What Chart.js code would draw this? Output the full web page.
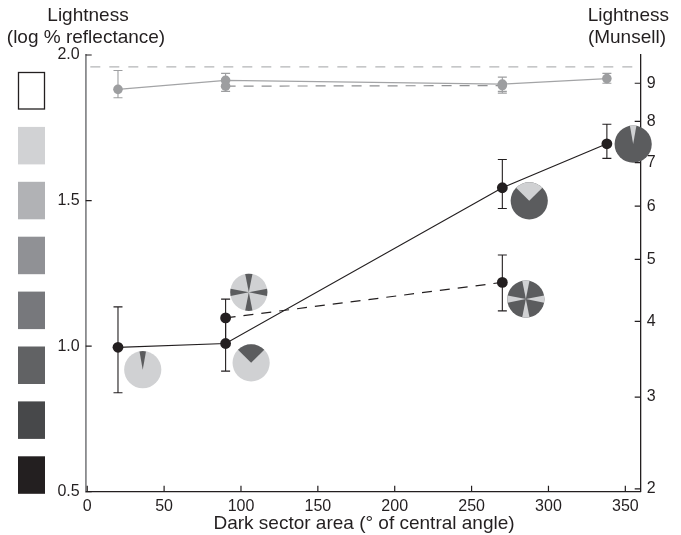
<!DOCTYPE html>
<html>
<head>
<meta charset="utf-8">
<script src="https://cdn.jsdelivr.net/npm/chart.js@4/dist/chart.umd.min.js"></script>
<style>
html,body{margin:0;padding:0;background:#fff;}
#wrap{position:relative;width:681px;height:535px;}
</style>
</head>
<body>
<div id="wrap"><canvas id="c" width="681" height="535"></canvas></div>
<script>
// ---- data ----
const xTicks = [0, 50, 100, 150, 200, 250, 300, 350];
const yTicks = [0.5, 1.0, 1.5, 2.0];
const munsellLabels = ['2', '3', '4', '5', '6', '7', '8', '9'];
const munsellLog = [0.51, 0.825, 1.085, 1.298, 1.481, 1.63, 1.772, 1.903];

const solidX = [20, 90, 270, 338];
const solidY = [0.996, 1.009, 1.544, 1.695];
const solidLo = [0.840, 0.914, 1.473, 1.645];
const solidHi = [1.135, 1.097, 1.641, 1.762];

const dashX = [90, 270];
const dashY = [1.097, 1.219];
const dashLo = [1.009, 1.121];
const dashHi = [1.1615, 1.313];

const graySolidX = [20, 90, 270, 338];
const graySolidY = [1.882, 1.913, 1.900, 1.919];
const graySolidLo = [1.853, 1.893, 1.869, 1.903];
const graySolidHi = [1.947, 1.937, 1.924, 1.937];

const grayDashX = [90, 270];
const grayDashY = [1.893, 1.895];
const grayDashLo = [1.875, 1.875];
const grayDashHi = [1.913, 1.900];

const whiteRef = 1.959;

// pie annotations: centre (data units), dark-sector pattern
const pieX = [36.1, 106.6, 105.1, 287.5, 285.3, 355.1];
const pieY = [0.919, 0.9425, 1.185, 1.499, 1.1615, 1.694];
const pieType = ['darkTop', 'darkTop', 'dark4', 'lightTop', 'light4', 'lightTop'];
const pieAngle = [20, 90, 22.5, 90, 22.5, 20];

const swatchColors = ['#ffffff', '#d1d2d4', '#b1b2b5', '#909195', '#77787c', '#616264', '#47484a', '#231f20'];

// ---- chart ----
const BLACK = '#231f20';
const GRAY = '#9d9ea0';
const PIE_LIGHT = '#d0d1d3';
const PIE_DARK = '#5b5c5e';
const FONT = '"Liberation Sans", Arial, Helvetica, sans-serif';

function pts(xs, ys) { return xs.map((x, i) => ({x: x, y: ys[i]})); }

const errorSets = [
  {xs: graySolidX, lo: graySolidLo, hi: graySolidHi, color: GRAY},
  {xs: grayDashX, lo: grayDashLo, hi: grayDashHi, color: GRAY},
  {xs: solidX, lo: solidLo, hi: solidHi, color: BLACK},
  {xs: dashX, lo: dashLo, hi: dashHi, color: BLACK}
];

const decor = {
  id: 'decor',
  beforeDatasetsDraw(chart) {
    const ctx = chart.ctx, xs = chart.scales.x, ys = chart.scales.y;
    ctx.save();
    errorSets.forEach(s => {
      ctx.strokeStyle = s.color;
      ctx.lineWidth = 1.1;
      s.xs.forEach((xv, i) => {
        const px = xs.getPixelForValue(xv);
        const y1 = ys.getPixelForValue(s.lo[i]);
        const y2 = ys.getPixelForValue(s.hi[i]);
        ctx.beginPath();
        ctx.moveTo(px, y1); ctx.lineTo(px, y2);
        ctx.moveTo(px - 4.5, y1); ctx.lineTo(px + 4.5, y1);
        ctx.moveTo(px - 4.5, y2); ctx.lineTo(px + 4.5, y2);
        ctx.stroke();
      });
    });
    const r = 18.6;
    pieX.forEach((xv, i) => {
      const cx = xs.getPixelForValue(xv), cy = ys.getPixelForValue(pieY[i]);
      const t = pieType[i], a = pieAngle[i] * Math.PI / 180;
      const base = t.startsWith('dark') ? PIE_LIGHT : PIE_DARK;
      const wedge = t.startsWith('dark') ? PIE_DARK : PIE_LIGHT;
      ctx.fillStyle = base;
      ctx.beginPath(); ctx.arc(cx, cy, r, 0, Math.PI * 2); ctx.fill();
      ctx.fillStyle = wedge;
      const centres = t.endsWith('4') ? [-90, 0, 90, 180] : [-90];
      centres.forEach(c => {
        const cr = c * Math.PI / 180;
        ctx.beginPath();
        ctx.moveTo(cx, cy);
        ctx.arc(cx, cy, r, cr - a / 2, cr + a / 2);
        ctx.closePath();
        ctx.fill();
      });
    });
    ctx.restore();
  },
  afterDraw(chart) {
    const ctx = chart.ctx, xs = chart.scales.x, ys = chart.scales.y, y2 = chart.scales.y2;
    const ca = chart.chartArea;
    ctx.save();
    ctx.strokeStyle = BLACK;
    ctx.lineWidth = 1.2;
    ctx.beginPath();
    xTicks.forEach(v => { const p = xs.getPixelForValue(v); ctx.moveTo(p, ca.bottom); ctx.lineTo(p, ca.bottom - 6); });
    yTicks.forEach(v => { const p = ys.getPixelForValue(v); ctx.moveTo(ca.left, p); ctx.lineTo(ca.left + 6, p); });
    munsellLog.forEach(v => { const p = y2.getPixelForValue(v); ctx.moveTo(ca.right, p); ctx.lineTo(ca.right - 6, p); });
    ctx.stroke();
    swatchColors.forEach((c, i) => {
      const top = 72 + i * 54.9;
      ctx.fillStyle = c;
      ctx.fillRect(18, top, 27, 37.5);
      if (i === 0) { ctx.strokeStyle = BLACK; ctx.lineWidth = 1.3; ctx.strokeRect(18.5, top + 0.5, 26, 36.5); }
    });
    ctx.fillStyle = BLACK;
    ctx.font = '19px ' + FONT;
    ctx.textBaseline = 'alphabetic';
    ctx.textAlign = 'center';
    ctx.fillText('Lightness', 88, 21);
    ctx.fillText('(log % reflectance)', 86, 43);
    ctx.textAlign = 'right';
    ctx.fillText('Lightness', 669, 21);
    ctx.fillText('(Munsell)', 666, 43);
    ctx.textAlign = 'center';
    ctx.fillText('Dark sector area (\u00B0 of central angle)', 364, 529);
    ctx.restore();
  }
};

new Chart(document.getElementById('c'), {
  type: 'scatter',
  data: {
    datasets: [
      {data: [{x: 2, y: whiteRef}, {x: 360, y: whiteRef}], showLine: true, borderColor: '#b4b5b7', borderWidth: 1.3, borderDash: [10, 9], pointRadius: 0},
      {data: pts(grayDashX, grayDashY), showLine: true, borderColor: '#8f9092', borderWidth: 1.2, borderDash: [10, 8], pointRadius: 4.8, pointBackgroundColor: GRAY, pointBorderWidth: 0},
      {data: pts(graySolidX, graySolidY), showLine: true, borderColor: '#a3a4a6', borderWidth: 1.2, pointRadius: 4.8, pointBackgroundColor: GRAY, pointBorderWidth: 0},
      {data: pts(dashX, dashY), showLine: true, borderColor: BLACK, borderWidth: 1.2, borderDash: [10, 8], pointRadius: 5.4, pointBackgroundColor: BLACK, pointBorderWidth: 0},
      {data: pts(solidX, solidY), showLine: true, borderColor: BLACK, borderWidth: 1.2, pointRadius: 5.4, pointBackgroundColor: BLACK, pointBorderWidth: 0}
    ]
  },
  options: {
    responsive: false,
    animation: false,
    layout: {padding: {top: 55, left: 0, right: 0, bottom: 0}},
    plugins: {legend: {display: false}, tooltip: {enabled: false}},
    scales: {
      x: {
        type: 'linear', min: -1, max: 360,
        afterBuildTicks: s => { s.ticks = xTicks.map(v => ({value: v})); },
        afterFit: s => { s.height = 43.3; },
        grid: {display: false, drawTicks: false},
        border: {display: true, color: BLACK, width: 1.3},
        ticks: {color: BLACK, font: {size: 16, family: FONT}, padding: 5, autoSkip: false, maxRotation: 0}
      },
      y: {
        type: 'linear', position: 'left', min: 0.5, max: 2.0,
        afterBuildTicks: s => { s.ticks = yTicks.map(v => ({value: v})); },
        afterFit: s => { s.width = 85.7; },
        grid: {display: false, drawTicks: false},
        border: {display: true, color: '#8a8b8d', width: 1.8},
        ticks: {color: BLACK, font: {size: 16, family: FONT}, padding: 6, callback: v => Number(v).toFixed(1)}
      },
      y2: {
        type: 'linear', position: 'right', min: 0.5, max: 2.0,
        afterBuildTicks: s => { s.ticks = munsellLog.map(v => ({value: v})); },
        afterFit: s => { s.width = 40.3; },
        grid: {display: false, drawTicks: false},
        border: {display: true, color: BLACK, width: 1.3},
        ticks: {color: BLACK, font: {size: 16, family: FONT}, padding: 6, autoSkip: false,
          callback: (v, i) => munsellLabels[i]}
      }
    }
  },
  plugins: [decor]
});
</script>
</body>
</html>
